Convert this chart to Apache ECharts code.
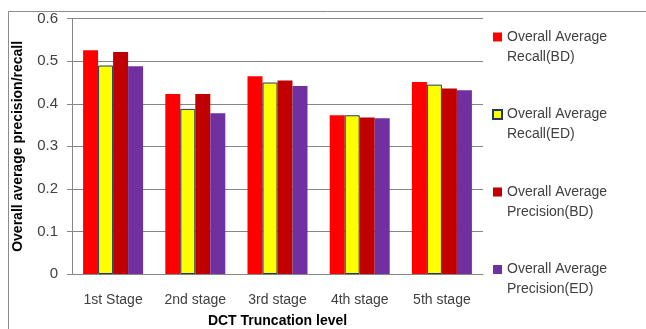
<!DOCTYPE html>
<html>
<head>
<meta charset="utf-8">
<script src="https://cdn.jsdelivr.net/npm/echarts@6/dist/echarts.min.js"></script>
<style>html,body{margin:0;padding:0;background:#fff}#c{width:646px;height:329px}</style>
</head>
<body>
<div id="c"></div>
<script>
const categories = ['1st Stage', '2nd stage', '3rd stage', '4th stage', '5th stage'];
const seriesNames = ['Overall Average Recall(BD)', 'Overall Average Recall(ED)', 'Overall Average Precision(BD)', 'Overall Average Precision(ED)'];
const recallBD = [0.526, 0.423, 0.465, 0.373, 0.451];
const recallED = [0.490, 0.388, 0.450, 0.373, 0.445];
const precisionBD = [0.522, 0.423, 0.455, 0.368, 0.436];
const precisionED = [0.488, 0.378, 0.442, 0.366, 0.432];
const yTicks = [0, 0.1, 0.2, 0.3, 0.4, 0.5, 0.6];
const colors = ['#FF0000', '#FFFF00', '#C00000', '#7030A0'];
const values = [recallBD, recallED, precisionBD, precisionED];
const font = 'Liberation Sans, sans-serif';

const chart = echarts.init(document.getElementById('c'));
chart.setOption({
  animation: false,
  backgroundColor: '#fff',
  graphic: [{
    type: 'rect', left: 6, top: 9, z: -1,
    shape: { width: 700, height: 400 },
    style: { fill: 'none', stroke: '#8c8c8c', lineWidth: 1 }
  }],
  grid: { left: 72, right: 163, top: 18.7, bottom: 55, containLabel: false, outerBoundsMode: 'none' },
  legend: {
    orient: 'vertical', left: 492, top: 7, padding: 0,
    itemWidth: 9, itemHeight: 9, itemGap: 17.5,
    icon: 'rect',
    data: seriesNames,
    formatter: function (n) { return ' \n' + n.replace('Average ', 'Average\n'); },
    textStyle: { fontFamily: font, fontSize: 14, color: '#404040', lineHeight: 20 }
  },
  xAxis: {
    type: 'category', data: categories,
    axisLine: { lineStyle: { color: '#868686' } },
    axisTick: { show: false },
    axisLabel: { fontFamily: font, fontSize: 14, color: '#404040', margin: 19 },
    name: 'DCT Truncation level', nameLocation: 'middle', nameGap: 40,
    nameTextStyle: { fontFamily: font, fontSize: 14, fontWeight: 'bold', color: '#000' }
  },
  yAxis: {
    type: 'value', min: yTicks[0], max: yTicks[yTicks.length - 1], interval: 0.1,
    axisLine: { show: true, lineStyle: { color: '#868686' } },
    axisTick: { show: true, length: 5, lineStyle: { color: '#868686' } },
    splitLine: { lineStyle: { color: '#868686' } },
    axisLabel: { fontFamily: font, fontSize: 15, color: '#404040', margin: 14,
      formatter: function (v) { return String(Math.round(v * 10) / 10); } },
    name: 'Overall average precision/recall', nameLocation: 'middle', nameGap: 47,
    nameTextStyle: { fontFamily: font, fontSize: 14, fontWeight: 'bold', color: '#000' }
  },
  series: seriesNames.map(function (name, i) {
    return {
      name: name, type: 'bar', data: values[i],
      barGap: '0%', barCategoryGap: '27%',
      itemStyle: i === 1 ? { color: colors[i], borderColor: '#1F3864', borderWidth: 1 } : { color: colors[i] }
    };
  })
});
</script>
</body>
</html>
